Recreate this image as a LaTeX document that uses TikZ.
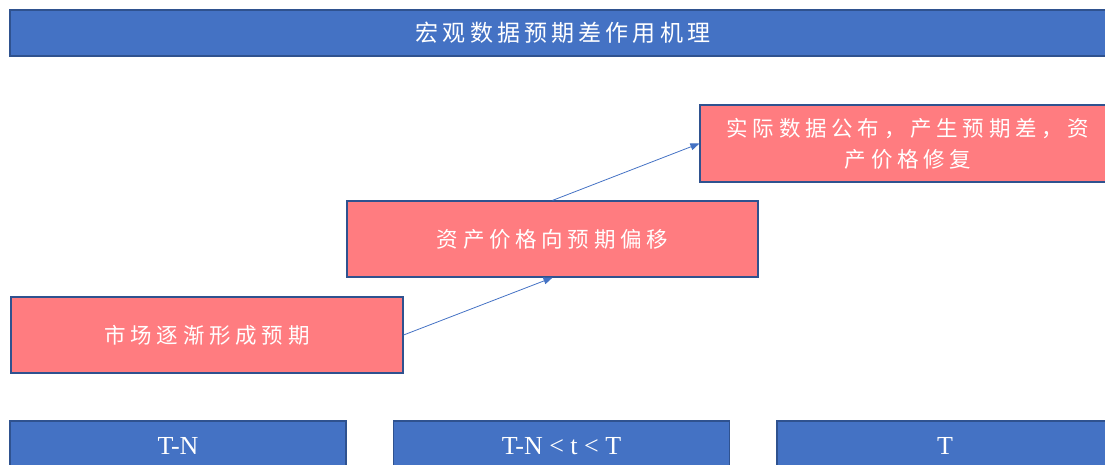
\documentclass[tikz,border=0pt]{standalone}
\usepackage{fontspec}
\setmainfont{Liberation Serif}
\newfontfamily\cjk[LetterSpace=22]{Noto Sans CJK SC}
\newfontfamily\cjktitle[LetterSpace=18]{Noto Sans CJK SC}
\usetikzlibrary{arrows.meta}
\definecolor{bluefill}{HTML}{4472C4}
\definecolor{blueline}{HTML}{2F528F}
\definecolor{redfill}{HTML}{FF7C80}
\tikzset{
 bar/.style={draw=blueline, line width=1.2pt, fill=bluefill, text=white, inner sep=0pt},
 stagebox/.style={draw=blueline, line width=1.2pt, fill=redfill, text=white, inner sep=0pt, align=center, font=\cjk\fontsize{21.5}{31}\selectfont},
 flow/.style={draw=bluefill, line width=0.8pt, -{Triangle[length=9pt,width=7pt]}},
 timebox/.style={bar, minimum width=336pt, minimum height=50pt, font=\fontsize{26}{30}\selectfont},
}
\begin{document}
\begin{tikzpicture}[x=1pt,y=-1pt]
\useasboundingbox (0,0) rectangle (1105,465);
\clip (0,0) rectangle (1105,465);
\node[bar, minimum width=1106pt, minimum height=46pt, font=\cjktitle\fontsize{23}{28}\selectfont] (title) at (563,33) {宏观数据预期差作用机理};
\node[stagebox, minimum width=392pt, minimum height=76pt] (A) at (207,335) {市场逐渐形成预期};
\node[stagebox, minimum width=411pt, minimum height=76pt] (B) at (552.5,239) {资产价格向预期偏移};
\node[stagebox, minimum width=416pt, minimum height=77pt] (C) at (908,143.5) {实际数据公布，产生预期差，资\\产价格修复};
\node[timebox] (t1) at (178,446) {T-N};
\node[timebox] (t2) at (561.5,446) {T-N < t < T};
\node[timebox] (t3) at (945,446) {T};
\draw[flow] (A.east) -- (B.south);
\draw[flow] (B.north) -- (C.west);
\end{tikzpicture}
\end{document}
